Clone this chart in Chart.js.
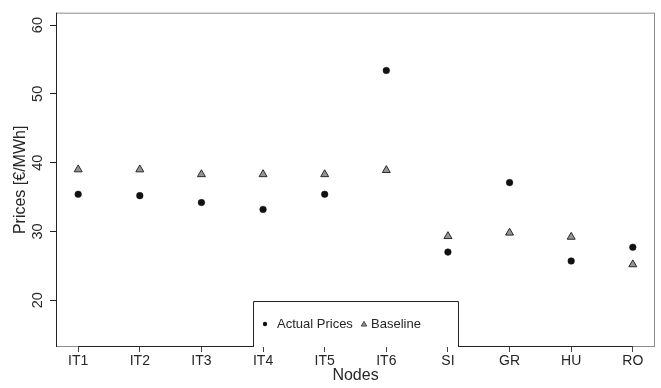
<!DOCTYPE html>
<html><head><meta charset="utf-8">
<script src="https://cdn.jsdelivr.net/npm/chart.js@4/dist/chart.umd.min.js"></script>
<style>html,body{margin:0;padding:0;background:#fff;}canvas{display:block;}</style>
</head><body>
<canvas id="c" width="661" height="388"></canvas>
<script>
// ---- data ----
const categories = ['IT1', 'IT2', 'IT3', 'IT4', 'IT5', 'IT6', 'SI', 'GR', 'HU', 'RO'];
const actualPrices = [35.4, 35.2, 34.2, 33.2, 35.4, 53.4, 27.0, 37.1, 25.7, 27.7];
const baselinePrices = [39.0, 39.0, 38.3, 38.3, 38.3, 38.9, 29.3, 29.8, 29.2, 25.2];
const yTickValues = [20, 30, 40, 50, 60];
const seriesNames = ['Actual Prices', 'Baseline'];
const xTitle = 'Nodes';
const yTitle = 'Prices [€/MWh]';

const FONT = '"Liberation Sans", Arial, Helvetica, sans-serif';
const TEXT = '#262626';
Chart.defaults.font.family = FONT;
Chart.defaults.color = TEXT;

const toPoints = arr => arr.map((v, i) => ({ x: i + 1, y: v }));

const boxPlugin = {
  id: 'rbox',
  beforeDatasetsDraw(chart) {
    const { ctx, chartArea: a, scales } = chart;
    ctx.save();
    ctx.lineWidth = 1;
    ctx.strokeStyle = '#8c8c8c';
    ctx.strokeRect(a.left + 0.5, a.top + 0.5, a.right - a.left - 1, a.bottom - a.top - 1);
    ctx.strokeStyle = '#222';
    ctx.beginPath();
    ctx.moveTo(a.left + 0.5, a.top);
    ctx.lineTo(a.left + 0.5, a.bottom);
    const x0 = scales.x.getPixelForValue(1), x1 = scales.x.getPixelForValue(categories.length);
    ctx.moveTo(x0, a.bottom - 0.5);
    ctx.lineTo(x1, a.bottom - 0.5);
    ctx.stroke();
    ctx.restore();
  }
};

function drawTri(ctx, x, y, r) {
  ctx.beginPath();
  for (let k = 0; k < 3; k++) {
    const ang = k * 2 * Math.PI / 3;
    const px = x + Math.sin(ang) * r, py = y - Math.cos(ang) * r;
    if (k === 0) ctx.moveTo(px, py); else ctx.lineTo(px, py);
  }
  ctx.closePath();
}

const legendPlugin = {
  id: 'rlegend',
  afterDraw(chart) {
    const { ctx, chartArea: a } = chart;
    const ds = chart.data.datasets;
    const cx = Math.round((a.left + a.right) / 2);
    const w = 206, h = 46;
    const left = cx - 103, top = a.bottom - h;
    ctx.save();
    ctx.fillStyle = '#fff';
    ctx.fillRect(left, top, w, h);
    ctx.strokeStyle = '#222';
    ctx.lineWidth = 1;
    ctx.beginPath();
    ctx.moveTo(left + 0.5, a.bottom);
    ctx.lineTo(left + 0.5, top + 0.5);
    ctx.lineTo(left + w - 0.5, top + 0.5);
    ctx.lineTo(left + w - 0.5, a.bottom);
    ctx.stroke();
    const ty = top + 23;
    ctx.fillStyle = ds[0].backgroundColor;
    ctx.beginPath();
    ctx.arc(left + 12, ty, 2.2, 0, Math.PI * 2);
    ctx.fill();
    ctx.font = '13px ' + FONT;
    ctx.fillStyle = TEXT;
    ctx.textBaseline = 'middle';
    ctx.textAlign = 'left';
    ctx.fillText(ds[0].label, left + 24, ty);
    drawTri(ctx, left + 111, ty + 0.5, 3.2);
    ctx.fillStyle = ds[1].backgroundColor;
    ctx.fill();
    ctx.strokeStyle = ds[1].borderColor;
    ctx.lineWidth = 0.8;
    ctx.stroke();
    ctx.fillStyle = TEXT;
    ctx.fillText(ds[1].label, left + 118, ty);
    ctx.restore();
  }
};

new Chart(document.getElementById('c'), {
  type: 'scatter',
  data: {
    datasets: [
      {
        label: seriesNames[0],
        data: toPoints(actualPrices),
        pointStyle: 'circle',
        pointRadius: 3.3,
        backgroundColor: '#111111',
        borderColor: '#111111',
        borderWidth: 0.5
      },
      {
        label: seriesNames[1],
        data: toPoints(baselinePrices),
        pointStyle: 'triangle',
        pointRadius: 4.6,
        backgroundColor: '#959595',
        borderColor: '#2a2a2a',
        borderWidth: 1
      }
    ]
  },
  options: {
    responsive: false,
    animation: false,
    events: [],
    layout: { padding: { left: 0, top: 5, right: 6, bottom: 0 } },
    plugins: { legend: { display: false }, tooltip: { enabled: false } },
    scales: {
      x: {
        type: 'linear',
        min: 1 - 0.36,
        max: categories.length + 0.36,
        afterBuildTicks: s => { s.ticks = categories.map((c, i) => ({ value: i + 1 })); },
        afterFit: s => { s.height = 41; },
        ticks: {
          autoSkip: false, maxRotation: 0, minRotation: 0, padding: 1,
          font: { size: 14 }, color: TEXT,
          callback: v => categories[Math.round(v) - 1]
        },
        grid: { display: true, drawOnChartArea: false, drawTicks: true, tickLength: 5, color: '#444', lineWidth: 1 },
        border: { display: false },
        title: { display: true, text: xTitle, font: { size: 16 }, color: TEXT, padding: { top: 0, bottom: 3 } }
      },
      y: {
        type: 'linear',
        min: 15 - 1.8,
        max: 60 + 1.8,
        afterBuildTicks: s => { s.ticks = yTickValues.map(v => ({ value: v })); },
        afterFit: s => { s.width = 56; },
        ticks: {
          minRotation: 90, maxRotation: 90, crossAlign: 'center', padding: 4,
          font: { size: 14.5 }, color: TEXT
        },
        grid: { display: true, drawOnChartArea: false, drawTicks: true, tickLength: 6, color: '#222', lineWidth: 1 },
        border: { display: false },
        title: { display: true, text: yTitle, font: { size: 16 }, color: TEXT, padding: { top: 11, bottom: 0 } }
      }
    }
  },
  plugins: [boxPlugin, legendPlugin]
});
</script>
</body></html>
